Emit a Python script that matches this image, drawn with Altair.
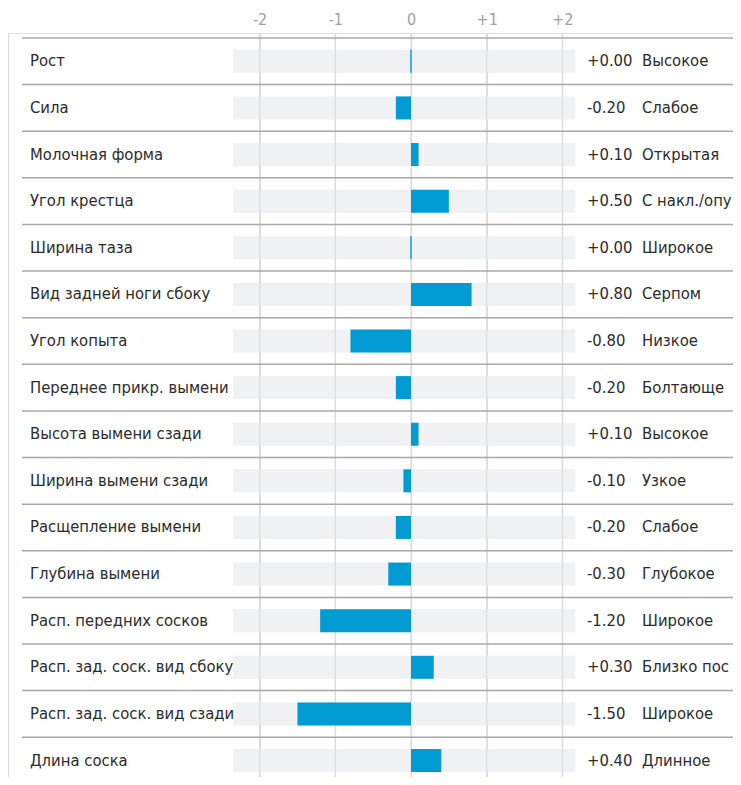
import altair as alt
import pandas as pd

traits = ["Рост", "Сила", "Молочная форма", "Угол крестца", "Ширина таза",
          "Вид задней ноги сбоку", "Угол копыта", "Переднее прикр. вымени",
          "Высота вымени сзади", "Ширина вымени сзади", "Расщепление вымени",
          "Глубина вымени", "Расп. передних сосков", "Расп. зад. соск. вид сбоку",
          "Расп. зад. соск. вид сзади", "Длина соска"]
values = [0.00, -0.20, 0.10, 0.50, 0.00, 0.80, -0.80, -0.20, 0.10, -0.10,
          -0.20, -0.30, -1.20, 0.30, -1.50, 0.40]
descriptors = ["Высокое", "Слабое", "Открытая", "С накл./опущенный", "Широкое",
               "Серпом", "Низкое", "Болтающееся", "Высокое", "Узкое", "Слабое",
               "Глубокое", "Широкое", "Близко посажены", "Широкое", "Длинное"]
ticks = [-2, -1, 0, 1, 2]
bg_range = [-2.35, 2.17]

df = pd.DataFrame({
    "trait": traits,
    "value": values,
    "desc": descriptors,
    "label": [f"{v:+.2f}" for v in values],
    "row": [i + 0.5 for i in range(len(traits))],
    "top": [float(i) for i in range(len(traits))],
    "bg0": [bg_range[0]] * len(traits),
    "bg1": [bg_range[1]] * len(traits),
    "zero": [0.0] * len(traits),
})
tick_df = pd.DataFrame({"t": ticks})

ROW = 47.25
W, H = 725, 744
FONT = "DejaVu Sans Condensed, sans-serif"
FS = 16.5

xscale = alt.Scale(domain=[-403 / 75.7, (W - 403) / 75.7], nice=False, zero=False)
yscale = alt.Scale(domain=[0, H / ROW], reverse=True, nice=False, zero=False)

base = alt.Chart(df)

x_axis = alt.Axis(orient="top", values=ticks, grid=True, gridColor="#dcdcdc",
                  gridWidth=1.2, domain=False, ticks=False, labelFont=FONT,
                  labelFontSize=16, labelColor="#a0a0a0", labelPadding=6,
                  labelExpr="datum.value > 0 ? '+' + datum.value : '' + datum.value",
                  title=None)

grid = alt.Chart(tick_df).mark_rule(opacity=0).encode(
    x=alt.X("t:Q", scale=xscale, axis=x_axis)
)

rowlines = base.mark_rule(color="#a8a8a8", strokeWidth=1.5).encode(
    y=alt.Y("top:Q", scale=yscale, axis=None),
    x=alt.value(14), x2=alt.value(W),
)

bg = base.mark_bar(color="#f0f1f3", height=23).encode(
    y=alt.Y("row:Q", scale=yscale, axis=None),
    x=alt.X("bg0:Q", scale=xscale),
    x2="bg1:Q",
)

gridfront = alt.Chart(tick_df).mark_rule(color="#dcdcdc", strokeWidth=1.2).encode(
    x=alt.X("t:Q", scale=xscale),
    y=alt.value(0), y2=alt.value(H),
)

bars = base.mark_bar(color="#009bd2", height=23).encode(
    y=alt.Y("row:Q", scale=yscale, axis=None),
    x=alt.X("zero:Q", scale=xscale),
    x2="value:Q",
)

zero_marks = base.transform_filter("datum.value == 0").mark_tick(
    color="#009bd2", thickness=2, size=23, orient="vertical"
).encode(
    y=alt.Y("row:Q", scale=yscale, axis=None),
    x=alt.X("zero:Q", scale=xscale),
)

names = base.mark_text(align="left", baseline="middle", font=FONT, fontSize=FS,
                       color="#2b2b2b").encode(
    y=alt.Y("row:Q", scale=yscale, axis=None),
    x=alt.value(22),
    text="trait:N",
)

labels = base.mark_text(align="left", baseline="middle", font=FONT, fontSize=FS,
                        color="#2b2b2b").encode(
    y=alt.Y("row:Q", scale=yscale, axis=None),
    x=alt.value(579),
    text="label:N",
)

descs = base.mark_text(align="left", baseline="middle", font=FONT, fontSize=FS,
                       color="#2b2b2b", limit=W - 634, ellipsis="\u200b").encode(
    y=alt.Y("row:Q", scale=yscale, axis=None),
    x=alt.value(634),
    text="desc:N",
)

chart = alt.layer(grid, bg, gridfront, rowlines, bars, zero_marks, names, labels, descs).properties(
    width=W, height=H,
    autosize=alt.AutoSizeParams(type="none"),
    padding={"top": 25, "left": 0, "right": 0, "bottom": 0},
).configure_view(strokeWidth=0).configure(background="white")

chart.save("out.html", embed_options={"renderer": "svg", "actions": False})
